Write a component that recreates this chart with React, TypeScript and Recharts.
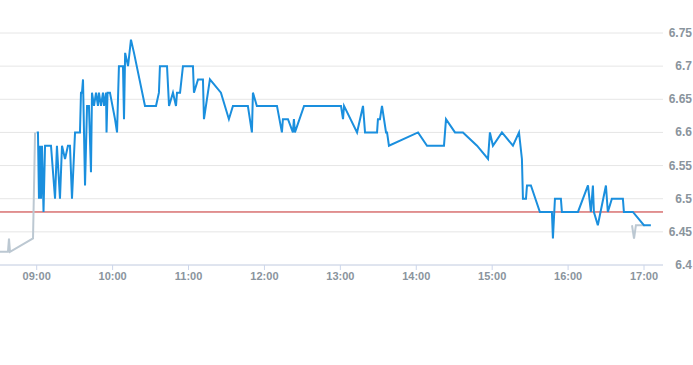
import React from 'react';
import { LineChart, Line, XAxis, YAxis, CartesianGrid, ReferenceLine } from 'recharts';

const preTimes = ['08:31:00', '08:37:18', '08:38:06', '08:38:54', '08:57:06', '08:58:42'];
const prePrices = [6.42, 6.42, 6.44, 6.42, 6.44, 6.6];

const sessionTimes = [
  '09:00:00', '09:01:00', '09:01:48', '09:02:36', '09:03:24', '09:04:12', '09:05:24', '09:06:36',
  '09:11:18', '09:14:30', '09:16:00', '09:18:24', '09:20:00', '09:22:24', '09:24:42', '09:26:18',
  '09:27:54', '09:30:18', '09:34:12', '09:35:00', '09:35:48', '09:36:36', '09:38:12', '09:39:48',
  '09:41:18', '09:42:54', '09:43:42', '09:45:18', '09:46:54', '09:48:24', '09:49:12', '09:50:48',
  '09:52:24', '09:53:12', '09:54:48', '09:55:12', '09:56:00', '09:57:54', '10:01:54', '10:03:30',
  '10:05:00', '10:08:12', '10:09:00', '10:09:54', '10:12:12', '10:14:30', '10:16:54', '10:25:36',
  '10:34:18', '10:36:36', '10:37:24', '10:43:00', '10:44:36', '10:47:42', '10:50:06', '10:50:54',
  '10:53:18', '10:55:36', '11:03:30', '11:04:18', '11:07:30', '11:11:24', '11:12:12', '11:16:54',
  '11:25:36', '11:31:54', '11:35:06', '11:46:54', '11:50:06', '11:50:54', '11:54:00', '12:09:54',
  '12:13:48', '12:14:36', '12:18:36', '12:22:30', '12:23:18', '12:24:06', '12:31:18', '13:00:30',
  '13:02:06', '13:02:54', '13:13:12', '13:17:54', '13:19:30', '13:29:00', '13:29:42', '13:31:18',
  '13:32:54', '13:36:06', '13:36:54', '13:38:24', '14:01:24', '14:08:30', '14:21:54', '14:23:30',
  '14:30:36', '14:36:54', '14:48:00', '14:56:42', '14:58:12', '15:00:36', '15:07:42', '15:16:24',
  '15:21:12', '15:23:30', '15:24:18', '15:26:42', '15:27:30', '15:30:36', '15:37:42', '15:47:12',
  '15:48:00', '15:49:36', '15:54:18', '15:55:06', '16:07:48', '16:15:42', '16:18:00', '16:19:36',
  '16:20:24', '16:23:30', '16:29:54', '16:31:24', '16:34:36', '16:43:18', '16:44:06', '16:51:12',
  '16:59:54', '17:05:24',
];
const sessionPrices = [
  6.6, 6.6, 6.5, 6.58, 6.5, 6.58, 6.48, 6.58,
  6.58, 6.5, 6.58, 6.5, 6.58, 6.56, 6.58, 6.58,
  6.5, 6.6, 6.6, 6.66, 6.66, 6.68, 6.52, 6.64,
  6.64, 6.54, 6.66, 6.64, 6.66, 6.64, 6.66, 6.64,
  6.66, 6.64, 6.66, 6.6, 6.66, 6.66, 6.62, 6.6,
  6.7, 6.7, 6.62, 6.72, 6.7, 6.74, 6.72, 6.64,
  6.64, 6.66, 6.7, 6.7, 6.64, 6.66, 6.64, 6.66,
  6.66, 6.7, 6.7, 6.66, 6.68, 6.68, 6.62, 6.68,
  6.66, 6.62, 6.64, 6.64, 6.6, 6.66, 6.64, 6.64,
  6.6, 6.62, 6.62, 6.6, 6.62, 6.6, 6.64, 6.64,
  6.62, 6.64, 6.6, 6.64, 6.6, 6.6, 6.62, 6.62,
  6.64, 6.6, 6.6, 6.58, 6.6, 6.58, 6.58, 6.62,
  6.6, 6.6, 6.58, 6.56, 6.6, 6.58, 6.6, 6.58,
  6.6, 6.56, 6.5, 6.5, 6.52, 6.52, 6.48, 6.48,
  6.44, 6.5, 6.5, 6.48, 6.48, 6.52, 6.48, 6.52,
  6.48, 6.46, 6.52, 6.48, 6.5, 6.5, 6.48, 6.48,
  6.46, 6.46,
];

const postTimes = ['16:50:30', '16:52:06', '16:53:36', '17:00:42'];
const postPrices = [6.46, 6.44, 6.46, 6.46];

const hourTicks = ['09:00', '10:00', '11:00', '12:00', '13:00', '14:00', '15:00', '16:00', '17:00'];
const priceTicks = [6.4, 6.45, 6.5, 6.55, 6.6, 6.65, 6.7, 6.75];
const previousClose = 6.48;
const dayStart = '08:31';
const dayEnd = '17:15';

const toMin = (s: string) => {
  const [h, m, sec] = s.split(':').map(Number);
  return h * 60 + m + (sec || 0) / 60;
};
const pad = (n: number) => String(n).padStart(2, '0');
const fmtTime = (v: number) => `${pad(Math.floor(v / 60))}:${pad(Math.round(v % 60))}`;

const build = (times: string[], prices: number[]) =>
  times.map((t, i) => ({ t: toMin(t), price: prices[i] }));

const preData = build(preTimes, prePrices);
const sessionData = build(sessionTimes, sessionPrices);
const postData = build(postTimes, postPrices);

const W = 693;
const H = 365;
const labelColor = '#8a949d';

const PriceTick = (props: any) => {
  const { y, payload } = props;
  return (
    <text x={W - 1} y={y} dy={4} textAnchor="end" fill={labelColor} fontSize={12} fontWeight={600}>
      {payload.value}
    </text>
  );
};

export default function App() {
  return (
    <div style={{ position: 'absolute', left: 0, top: 0, fontFamily: '"Liberation Sans", Arial, sans-serif' }}>
      <LineChart width={W} height={H} margin={{ top: 33, right: 0, bottom: 70, left: 0 }}>
        <CartesianGrid vertical={false} stroke="#e6e6e6" />
        <XAxis
          type="number"
          dataKey="t"
          domain={[toMin(dayStart), toMin(dayEnd)]}
          ticks={hourTicks.map(toMin)}
          tickFormatter={fmtTime}
          allowDataOverflow
          height={30}
          stroke="#ccd6eb"
          tickSize={5}
          tick={{ fill: labelColor, fontSize: 11, fontWeight: 600 }}
        />
        <YAxis
          orientation="right"
          domain={[6.4, 6.75]}
          ticks={priceTicks}
          width={30}
          axisLine={false}
          tickLine={false}
          tick={<PriceTick />}
        />
        <ReferenceLine y={previousClose} stroke="#c42a2a" strokeWidth={1} />
        <Line data={preData} dataKey="price" stroke="#bcc8d2" strokeWidth={2} dot={false} isAnimationActive={false} />
        <Line data={postData} dataKey="price" stroke="#bcc8d2" strokeWidth={2} dot={false} isAnimationActive={false} />
        <Line data={sessionData} dataKey="price" stroke="#1a8fde" strokeWidth={2} dot={false} isAnimationActive={false} />
      </LineChart>
    </div>
  );
}
